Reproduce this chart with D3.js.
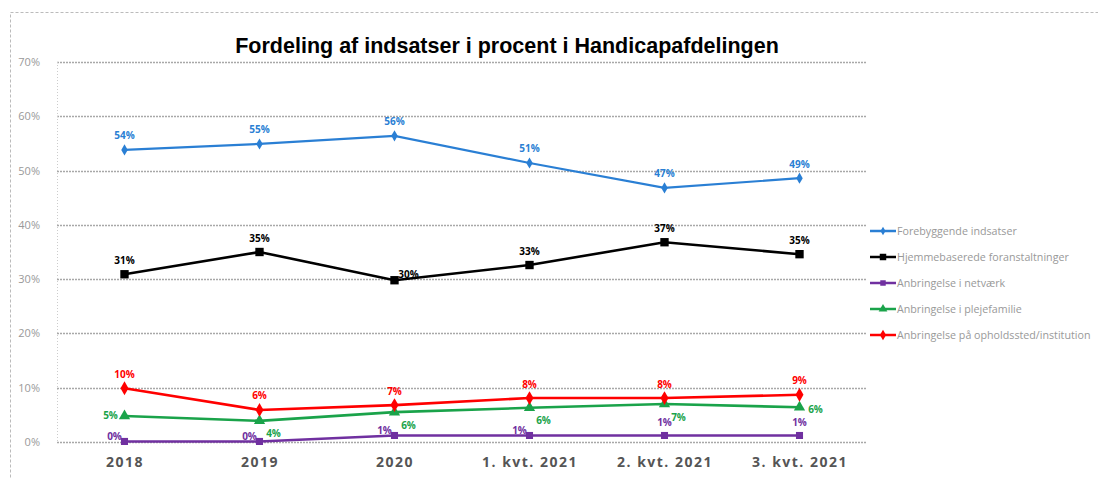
<!DOCTYPE html>
<html><head><meta charset="utf-8">
<script src="https://cdn.jsdelivr.net/npm/d3@7/dist/d3.min.js"></script>
<style>body{margin:0;background:#fff;} svg{display:block;}</style>
</head><body>
<svg id="c" width="1098" height="478"></svg>
<script>
const categories = ["2018","2019","2020","1. kvt. 2021","2. kvt. 2021","3. kvt. 2021"];
const seriesNames = ["Forebyggende indsatser","Hjemmebaserede foranstaltninger","Anbringelse i netværk","Anbringelse i plejefamilie","Anbringelse på opholdssted/institution"];
const forebyggende = [53.8,54.9,56.4,51.4,46.8,48.6];
const hjemmebaserede = [30.9,35.0,29.8,32.6,36.8,34.6];
const netvaerk = [0.1,0.1,1.2,1.2,1.2,1.2];
const plejefamilie = [4.8,3.9,5.5,6.3,7.0,6.4];
const opholdssted = [9.9,5.9,6.8,8.1,8.1,8.7];
const yTicks = [0,10,20,30,40,50,60,70];

const colors = ["#2a7fd4","#000000","#7030a0","#1aa34a","#ff0000"];
const symbols = [d3.symbolDiamond,d3.symbolSquare,d3.symbolSquare,d3.symbolTriangle,d3.symbolDiamond];
const symSizes = [36,70,50,55,55];
const labelOff = [
  [[0,-14],[0,-14],[0,-14],[0,-14],[0,-14],[0,-14]],
  [[0,-14],[0,-14],[14,-6],[0,-14],[0,-14],[0,-14]],
  [[-10,-5],[-10,-5],[-10,-5],[-10,-5],[0,-13],[0,-13]],
  [[-14,0],[14,13],[14,13],[14,13],[14,13],[16,2]],
  [[0,-14],[0,-14],[0,-14],[0,-14],[0,-14],[0,-14]]
];
const allSeries = [forebyggende,hjemmebaserede,netvaerk,plejefamilie,opholdssted];

const svg = d3.select("#c");
const m = {l:57,r:867,t:62,b:442};
const x = d3.scalePoint().domain(categories).range([m.l,m.r]).padding(0.5);
const y = d3.scaleLinear().domain([0,70]).range([m.b,m.t]);

svg.append("rect").attr("x",10.5).attr("y",12.5).attr("width",1100).attr("height",500)
  .attr("fill","none").attr("stroke","#bbb").attr("stroke-dasharray","3,2");

svg.append("text").attr("x",507).attr("y",53).attr("text-anchor","middle")
  .attr("font-family","Liberation Sans, Arial, sans-serif").attr("font-weight","bold")
  .attr("font-size",21.5).attr("fill","#000").text("Fordeling af indsatser i procent i Handicapafdelingen");

const g = svg.append("g");
g.selectAll("line.grid").data(yTicks).join("line")
  .attr("x1",m.l).attr("x2",m.r).attr("y1",d=>Math.round(y(d))+0.5).attr("y2",d=>Math.round(y(d))+0.5)
  .attr("stroke","#a8a8a8").attr("stroke-width",1.5).attr("stroke-dasharray","2,1");
g.append("line").attr("x1",m.l+0.5).attr("x2",m.l+0.5).attr("y1",m.t).attr("y2",m.b)
  .attr("stroke","#ccc").attr("stroke-dasharray","1,2");

const ya = svg.append("g").attr("transform",`translate(${m.l-14},0)`)
  .call(d3.axisLeft(y).tickValues(yTicks).tickFormat(d=>d+"%").tickSize(0));
ya.select(".domain").remove();
ya.selectAll("text").attr("font-family","Open Sans, sans-serif").attr("font-size",11).attr("fill","#999");

const xa = svg.append("g").attr("transform",`translate(0,${m.b+12})`)
  .call(d3.axisBottom(x).tickSize(0));
xa.select(".domain").remove();
xa.selectAll("text").attr("font-family","Open Sans, sans-serif").attr("font-size",14).attr("font-weight","bold").attr("fill","#555").attr("letter-spacing","1.5px");

const line = d3.line().x((d,i)=>x(categories[i])).y(d=>y(d));
allSeries.forEach((vals,s)=>{
  svg.append("path").datum(vals).attr("d",line).attr("fill","none")
    .attr("stroke",colors[s]).attr("stroke-width",s===0?2.2:2.6);
  svg.append("g").selectAll("path").data(vals).join("path")
    .attr("transform",(d,i)=>`translate(${x(categories[i])},${y(d)})`)
    .attr("d",d3.symbol().type(symbols[s]).size(symSizes[s])).attr("fill",colors[s]);
  svg.append("g").selectAll("text").data(vals).join("text")
    .attr("x",(d,i)=>x(categories[i])+labelOff[s][i][0])
    .attr("y",(d,i)=>y(d)+labelOff[s][i][1]+3.5)
    .attr("text-anchor","middle").attr("font-family","Open Sans, sans-serif")
    .attr("font-size",10).attr("font-weight","bold").attr("fill",colors[s])
    .text(d=>Math.round(d)+"%");
});

const lg = svg.append("g").attr("transform","translate(870,231)");
seriesNames.forEach((n,s)=>{
  const row = lg.append("g").attr("transform",`translate(0,${s*26})`);
  row.append("line").attr("x1",0).attr("x2",26).attr("y1",0).attr("y2",0).attr("stroke",colors[s]).attr("stroke-width",2.5);
  row.append("path").attr("transform","translate(13,0)").attr("d",d3.symbol().type(symbols[s]).size(symSizes[s]*0.6)).attr("fill",colors[s]);
  row.append("text").attr("x",27).attr("y",3.5).attr("font-family","Open Sans, sans-serif")
    .attr("font-size",10.7).attr("fill","#999").text(n);
});
</script>
</body></html>
